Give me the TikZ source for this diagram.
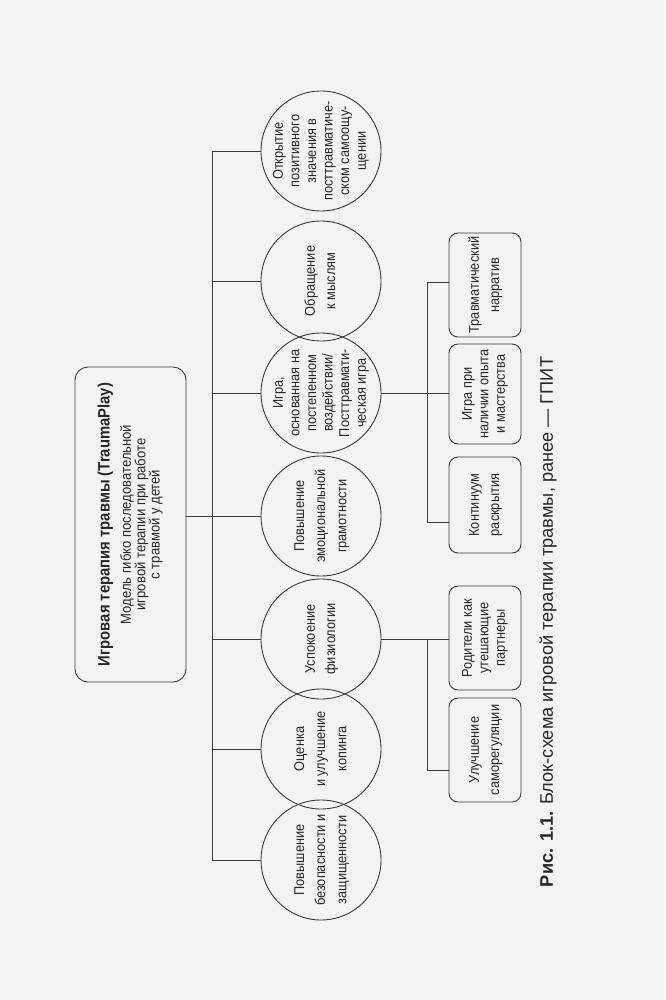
\documentclass[tikz,border=0pt]{standalone}
\usepackage{fontspec}
\setmainfont{Liberation Sans}[FakeStretch=0.9]
\newfontfamily\capfont{Liberation Sans}
\usepackage{graphicx}
\newcommand\rottext[2][1]{\rotatebox{90}{\renewcommand\arraystretch{#1}\begin{tabular}{@{}c@{}}#2\end{tabular}}}
\definecolor{linec}{HTML}{3A3A3A}
\definecolor{txtc}{HTML}{262626}
\definecolor{pagebg}{HTML}{F3F3F3}
\begin{document}
\begin{tikzpicture}[x=1pt,y=-1pt,
  ln/.style={draw=linec, line width=0.9pt},
  circ/.style={circle, draw=linec, line width=0.9pt, minimum size=120pt, inner sep=-20pt,
    text=txtc, font=\fontsize{14.2}{16.6}\selectfont},
  subbox/.style={rectangle, rounded corners=9pt, draw=linec, line width=0.9pt,
    minimum width=72pt, inner sep=0pt, text=txtc, font=\fontsize{14.2}{17}\selectfont},
  rootbox/.style={rectangle, rounded corners=13pt, draw=linec, line width=0.9pt,
    minimum width=111pt, minimum height=315pt, inner sep=0pt, text=txtc}]
\fill[pagebg] (0,0) rectangle (665,1000);
\useasboundingbox (0,0) rectangle (665,1000);

% root
\node[rootbox] (root) at (130.5,524.5) {\rotatebox{90}{\begin{tabular}{@{}c@{}}
  {\fontsize{16.5}{18}\selectfont\bfseries Игровая терапия травмы (TraumaPlay)}\\[7pt]
  \fontsize{14.5}{17}\selectfont Модель гибко последовательной\\
  \fontsize{14.5}{17}\selectfont игровой терапии при работе\\
  \fontsize{14.5}{17}\selectfont с травмой у детей\end{tabular}}};

% circles
\node[circ] (c1) at (321,151) {\rottext{Открытие\\позитивного\\значения в\\посттравматиче-\\ском самоощу-\\щении}};
\node[circ] (c2) at (321,281) {\rottext[1.22]{Обращение\\к мыслям}};
\node[circ] (c3) at (321,393) {\rottext{Игра,\\основанная на\\постепенном\\воздействии/\\Посттравмати-\\ческая игра}};
\node[circ] (c4) at (321,516) {\rottext[1.27]{Повышение\\эмоциональной\\грамотности}};
\node[circ] (c5) at (321,639) {\rottext[1.22]{Успокоение\\физиологии}};
\node[circ] (c6) at (321,749) {\rottext[1.27]{Оценка\\и улучшение\\копинга}};
\node[circ] (c7) at (321,860) {\rottext[1.27]{Повышение\\безопасности и\\защищенности}};

% sub boxes
\node[subbox, minimum height=104pt] (b1) at (485,285) {\rottext[1.18]{Травматический\\нарратив}};
\node[subbox, minimum height=100pt] (b2) at (485,394) {\rottext[0.97]{Игра при\\наличии опыта\\и мастерства}};
\node[subbox, minimum height=96pt] (b3) at (485,505) {\rottext[1.18]{Континуум\\раскрытия}};
\node[subbox, minimum height=104pt] (b4) at (485,638) {\rottext[0.97]{Родители как\\утешающие\\партнеры}};
\node[subbox, minimum height=104pt] (b5) at (485,750) {\rottext[1.18]{Улучшение\\саморегуляции}};

% caption
\node[text=txtc, font=\capfont\fontsize{18.2}{19}\selectfont] (cap) at (548,622)
  {\rotatebox{90}{\textbf{Рис. 1.1.} Блок-схема игровой терапии травмы, ранее — ГПИТ}};

% trunk
\coordinate (t1) at (212,151);
\coordinate (t2) at (212,281);
\coordinate (t3) at (212,393);
\coordinate (t4) at (212,516);
\coordinate (t5) at (212,639);
\coordinate (t6) at (212,749);
\coordinate (t7) at (212,860);
\draw[ln] (t1) -- (t7);
\draw[ln] (root.east |- t4) -- (t4);
\foreach \i in {1,...,7} {\draw[ln] (t\i) -- (c\i.west);}

% branch from c3
\coordinate (j1) at (427,282);
\coordinate (j3) at (427,522);
\draw[ln] (c3.east) -- (b2.west |- c3.east);
\draw[ln] (j1) -- (j3);
\draw[ln] (j1) -- (b1.west |- j1);
\draw[ln] (j3) -- (b3.west |- j3);

% branch from c5
\coordinate (k1) at (427,639);
\coordinate (k2) at (427,770);
\draw[ln] (c5.east) -- (k1);
\draw[ln] (k1) -- (k2);
\draw[ln] (k1) -- (b4.west |- k1);
\draw[ln] (k2) -- (b5.west |- k2);
\end{tikzpicture}
\end{document}
